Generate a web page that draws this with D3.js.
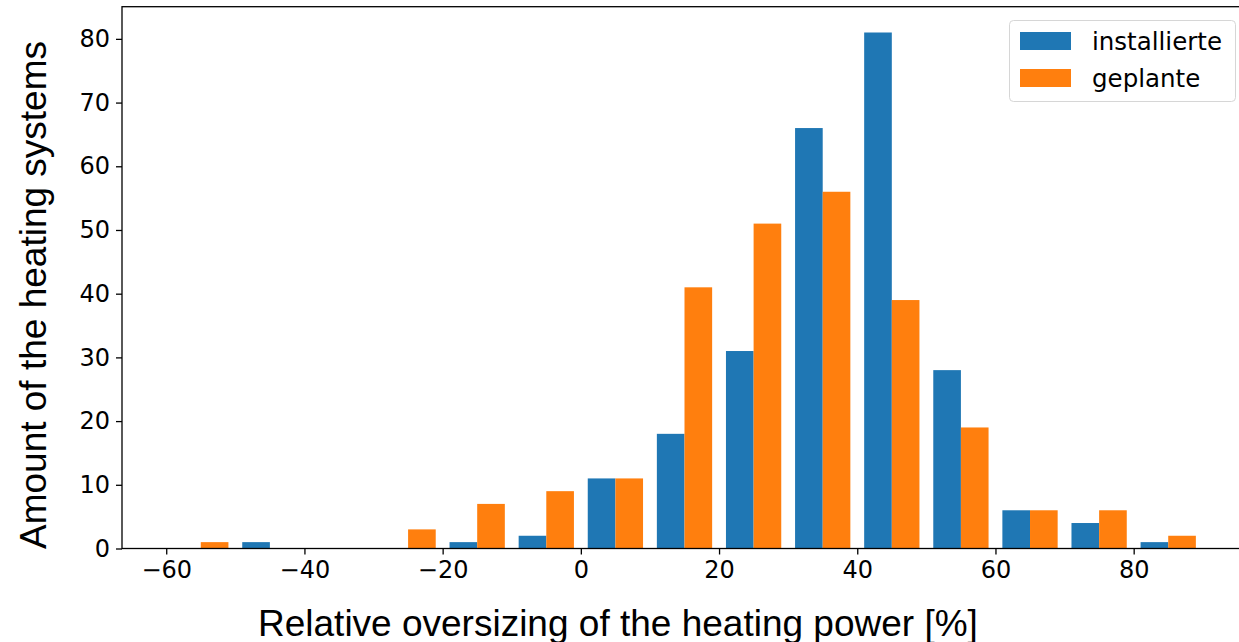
<!DOCTYPE html>
<html>
<head>
<meta charset="utf-8">
<script src="https://cdn.jsdelivr.net/npm/d3@7"></script>
<style>
  body { margin: 0; background: #fff; }
  svg { display: block; }
  .tick text { font-family: "DejaVu Sans", sans-serif; font-size: 24px; fill: #000; }
</style>
</head>
<body>
<div id="chart"></div>
<script>
// bin edges (left edge of each 10 %-bin)
const binStarts = [-60, -50, -40, -30, -20, -10, 0, 10, 20, 30, 40, 50, 60, 70, 80];
const installierte = [0, 1, 0, 0, 1, 2, 11, 18, 31, 66, 81, 28, 6, 4, 1];
const geplante     = [1, 0, 0, 3, 7, 9, 11, 41, 51, 56, 39, 19, 6, 6, 2];
const seriesNames = ['installierte', 'geplante'];
const seriesColors = ['#1f77b4', '#ff7f0e'];
const xTicks = [-60, -40, -20, 0, 20, 40, 60, 80];
const yTicks = [0, 10, 20, 30, 40, 50, 60, 70, 80];
const binWidth = 10;

const width = 1239, height = 642;
const plotLeft = 122, plotRight = 1247, plotTop = 6.7, plotBottom = 548.5;

const svg = d3.select('#chart').append('svg')
    .attr('width', width)
    .attr('height', height);

const x = d3.scaleLinear().domain([-66.4, 96.4]).range([plotLeft, plotRight]);
const y = d3.scaleLinear().domain([0, 85.05]).range([plotBottom, plotTop]);

// matplotlib-style: bars use 80% of the bin, split between the two series
const series = [installierte, geplante];
const barW = binWidth * 0.8 / series.length;

series.forEach((vals, si) => {
    svg.append('g')
        .selectAll('rect')
        .data(binStarts.map((b, i) => ({ b, v: vals[i] })).filter(d => d.v > 0))
        .enter()
        .append('rect')
        .attr('x', d => x(d.b + 1 + si * barW))
        .attr('width', d => x(d.b + 1 + (si + 1) * barW) - x(d.b + 1 + si * barW))
        .attr('y', d => y(d.v))
        .attr('height', d => y(0) - y(d.v))
        .attr('fill', seriesColors[si]);
});

// axes
const xAxis = svg.append('g')
    .attr('transform', `translate(0,${plotBottom})`)
    .call(d3.axisBottom(x).tickValues(xTicks).tickSize(6).tickPadding(6).tickSizeOuter(0));
const yAxis = svg.append('g')
    .attr('transform', `translate(${plotLeft},0)`)
    .call(d3.axisLeft(y).tickValues(yTicks).tickSize(6).tickPadding(6).tickSizeOuter(0));

[xAxis, yAxis].forEach(a => {
    a.select('.domain').remove();
    a.selectAll('.tick line').attr('stroke', '#000').attr('stroke-width', 1.3);
});

// frame (all four spines)
svg.append('rect')
    .attr('x', plotLeft)
    .attr('y', plotTop)
    .attr('width', plotRight - plotLeft)
    .attr('height', plotBottom - plotTop)
    .attr('fill', 'none')
    .attr('stroke', '#000')
    .attr('stroke-width', 1.3);

// axis labels
svg.append('text')
    .attr('x', 258)
    .attr('y', 636)
    .attr('font-family', '"Liberation Sans", Arial, sans-serif')
    .attr('font-size', 37)
    .text('Relative oversizing of the heating power [%]');

svg.append('text')
    .attr('transform', 'translate(45.5, 549) rotate(-90)')
    .attr('font-family', '"Liberation Sans", Arial, sans-serif')
    .attr('font-size', 37)
    .text('Amount of the heating systems');

// legend
const legend = svg.append('g');
legend.append('rect')
    .attr('x', 1009.5)
    .attr('y', 20.5)
    .attr('width', 226)
    .attr('height', 81)
    .attr('rx', 4)
    .attr('fill', 'rgba(255,255,255,0.8)')
    .attr('stroke', '#d6d6d6')
    .attr('stroke-width', 1);

const items = legend.selectAll('.legend-item')
    .data(seriesNames)
    .enter()
    .append('g')
    .attr('class', 'legend-item')
    .attr('transform', (d, i) => `translate(0, ${i * 37})`);

items.append('rect')
    .attr('x', 1020)
    .attr('y', 32)
    .attr('width', 51)
    .attr('height', 18)
    .attr('fill', (d, i) => seriesColors[i]);

items.append('text')
    .attr('x', 1092)
    .attr('y', 50)
    .attr('font-family', '"DejaVu Sans", sans-serif')
    .attr('font-size', 24.5)
    .text(d => d);
</script>
</body>
</html>
